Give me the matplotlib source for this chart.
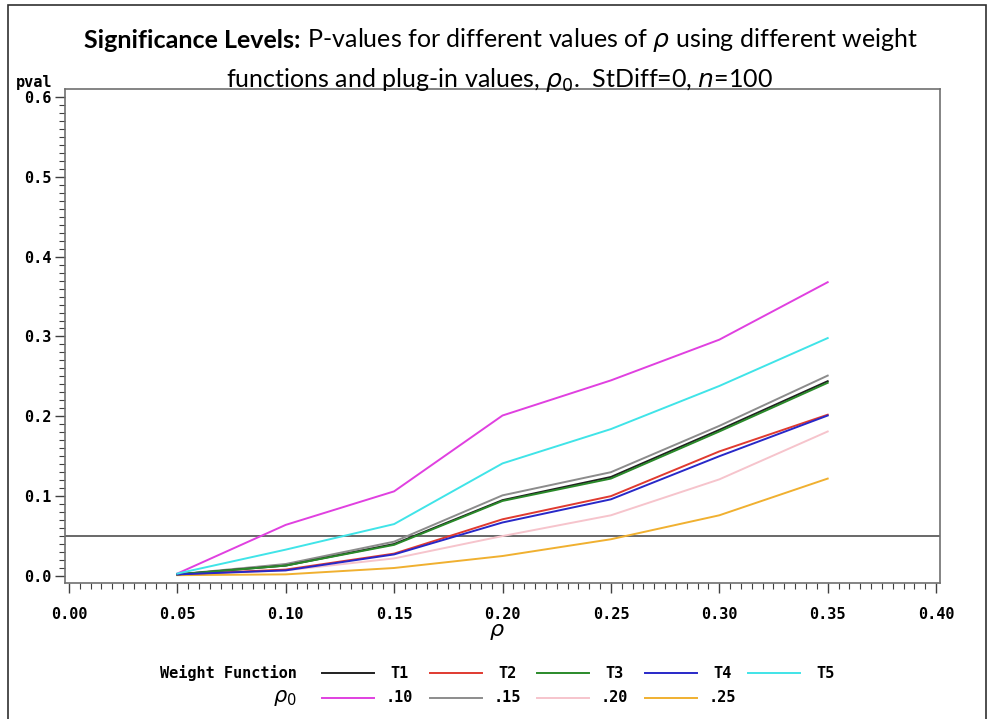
import numpy as np
import matplotlib.pyplot as plt
from matplotlib.lines import Line2D
from matplotlib.patches import Rectangle

plt.rcParams['font.family'] = ['DejaVu Sans']

# data
rho = [0.05, 0.10, 0.15, 0.20, 0.25, 0.30, 0.35]

T1 = [0.002, 0.013, 0.040, 0.095, 0.124, 0.183, 0.244]
T2 = [0.002, 0.008, 0.028, 0.071, 0.100, 0.156, 0.202]
T3 = [0.002, 0.013, 0.039, 0.094, 0.122, 0.181, 0.242]
T4 = [0.002, 0.007, 0.027, 0.067, 0.096, 0.150, 0.201]
T5 = [0.003, 0.033, 0.065, 0.141, 0.184, 0.238, 0.298]
r10 = [0.003, 0.064, 0.106, 0.201, 0.245, 0.296, 0.368]
r15 = [0.002, 0.015, 0.043, 0.101, 0.130, 0.188, 0.251]
r20 = [0.002, 0.007, 0.022, 0.050, 0.076, 0.121, 0.181]
r25 = [0.001, 0.002, 0.010, 0.025, 0.046, 0.076, 0.122]

row1_labels = ['T1', 'T2', 'T3', 'T4', 'T5']
row1_data = [T1, T2, T3, T4, T5]
row1_colors = ['#202020', '#e03a30', '#2a8a2a', '#2828c8', '#40e4e8']

row2_labels = ['.10', '.15', '.20', '.25']
row2_data = [r10, r15, r20, r25]
row2_colors = ['#e040e0', '#8c8c8c', '#f6c4cc', '#f0b030']

sig_level = 0.05

fig = plt.figure(figsize=(9.9, 7.19), dpi=100)
ax = fig.add_axes([65/990, 1 - 583/719, (940-65)/990, (583-89)/719])

ax.axhline(sig_level, color='#404040', lw=1.1, zorder=1)

# rho0 lines behind, weight function lines on top
for y, c in zip(row2_data, row2_colors):
    ax.plot(rho, y, color=c, lw=1.4)
for y, c in zip(row1_data, row1_colors):
    ax.plot(rho, y, color=c, lw=1.4)

ax.set_xlim(-0.0018, 0.4018)
ax.set_ylim(-0.0088, 0.610)
ax.set_xticks(np.arange(0, 0.401, 0.05))
ax.set_xticks(np.arange(0, 0.401, 0.005), minor=True)
ax.set_yticks(np.arange(0, 0.61, 0.1))
ax.set_yticks(np.arange(0, 0.601, 0.01), minor=True)
ax.set_xticklabels(['%.2f' % v for v in np.arange(0, 0.401, 0.05)])
ax.set_yticklabels(['%.1f' % v for v in np.arange(0, 0.61, 0.1)])

mono = dict(family='DejaVu Sans Mono', weight='bold', size=11)
for lab in ax.get_xticklabels() + ax.get_yticklabels():
    lab.set_fontproperties(mono)
ax.tick_params(axis='x', which='major', length=7, width=1, color='#404040', pad=10)
ax.tick_params(axis='y', which='major', length=7, width=1, color='#404040', pad=3)
ax.tick_params(axis='both', which='minor', length=4, width=0.8, color='#404040')
for s in ax.spines.values():
    s.set_color('#707070')
    s.set_linewidth(1.2)

# axis labels
fig.text(16/990, 1 - 90/719, 'pval', fontdict=mono, ha='left', va='bottom')
fig.text(497/990, 1 - 632/719, r'$\rho$', fontsize=16, ha='center', va='center')

# title: bold lead-in followed by regular text, centred as one line
tfont = ['Lato', 'DejaVu Sans']
tsize = 18
fig.canvas.draw()
rend = fig.canvas.get_renderer()
t_bold = fig.text(0, 1 - 40/719, 'Significance Levels:', fontsize=tsize,
                  fontweight='bold', family=tfont, ha='left', va='center')
t_rest = fig.text(0, 1 - 40/719,
                  r' P-values for different values of $\rho$ using different weight',
                  fontsize=tsize, family=tfont, ha='left', va='center')
wb = t_bold.get_window_extent(rend).width
wr = t_rest.get_window_extent(rend).width
x0 = 501 - (wb + wr) / 2
t_bold.set_x(x0 / 990)
t_rest.set_x((x0 + wb) / 990)
fig.text(500/990, 1 - 80/719,
         r'functions and plug-in values, $\rho_0$.  StDiff=0, $n$=100',
         fontsize=tsize, ha='center', va='center', family=tfont)

# legend
y1 = 1 - 673/719
y2 = 1 - 698/719
fig.text(297/990, y1, 'Weight Function', ha='right', va='center', fontdict=mono)
fig.text(297/990, y2, r'$\rho_0$', ha='right', va='center', fontsize=15)
x_starts = [322, 430, 537, 645, 748]
for i, (lab, c) in enumerate(zip(row1_labels, row1_colors)):
    xs = x_starts[i]
    fig.add_artist(Line2D([xs/990, (xs+52)/990], [y1, y1], color=c, lw=1.4))
    fig.text((xs+68)/990, y1, lab, ha='left', va='center', fontdict=mono)
for i, (lab, c) in enumerate(zip(row2_labels, row2_colors)):
    xs = x_starts[i]
    fig.add_artist(Line2D([xs/990, (xs+52)/990], [y2, y2], color=c, lw=1.4))
    fig.text((xs+64)/990, y2, lab, ha='left', va='center', fontdict=mono)

# outer frame
fig.add_artist(Rectangle((8/990, -0.01), (986-8)/990, 1 - 5/719 + 0.01,
                         transform=fig.transFigure, fill=False, ec='#303030', lw=1.2))

plt.savefig('out.png', dpi=100)
